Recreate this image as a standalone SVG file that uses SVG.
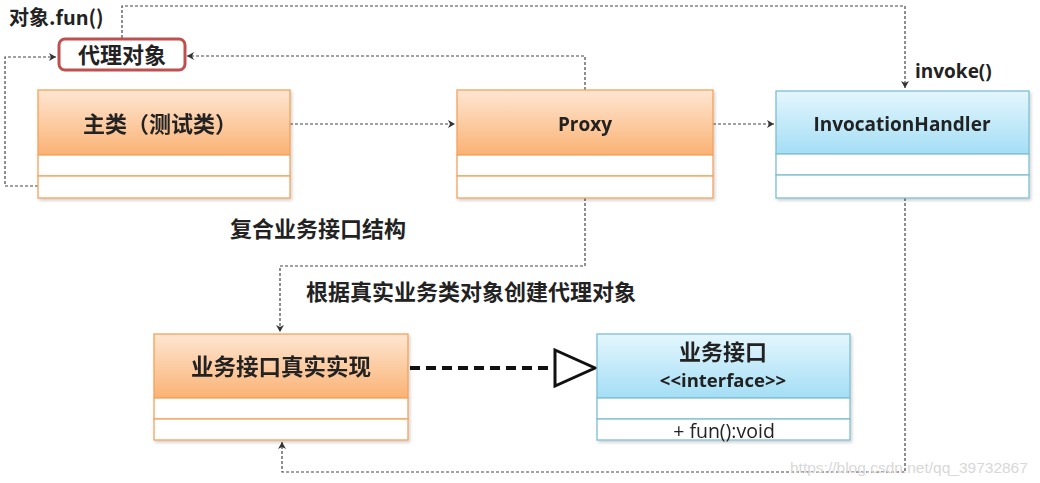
<svg xmlns="http://www.w3.org/2000/svg" width="1040" height="483" viewBox="0 0 1040 483">
<defs>
<linearGradient id="og" x1="0" y1="0" x2="0" y2="1">
<stop offset="0" stop-color="#fee6d2"/><stop offset="1" stop-color="#fab274"/>
</linearGradient>
<linearGradient id="bg" x1="0" y1="0" x2="0" y2="1">
<stop offset="0" stop-color="#e4f6fd"/><stop offset="1" stop-color="#a4def5"/>
</linearGradient>
<filter id="sh" x="-5%" y="-5%" width="112%" height="115%">
<feDropShadow dx="1.5" dy="2" stdDeviation="1.5" flood-color="#000" flood-opacity="0.18"/>
</filter>
<marker id="ah" markerWidth="10" markerHeight="10" refX="8" refY="5" orient="auto" markerUnits="userSpaceOnUse">
<path d="M1,1 L8,5 L1,9 L3,5 Z" fill="#333"/>
</marker>
<style>
.t{font-family:"Open Sans","Liberation Sans","Noto Sans CJK SC",sans-serif;font-weight:bold;fill:#222}
.cn{font-family:"Noto Sans CJK SC","Noto Sans",sans-serif;font-weight:bold;fill:#222}
.ob{stroke:#f5a25a;stroke-width:1.3}
.bb{stroke:#7dbfd3;stroke-width:1.3}
.row{fill:#fff}
.c{fill:none;stroke:#444;stroke-width:1.2;stroke-dasharray:3 2}
</style>
</defs>

<g id="connectors">
<path class="c" d="M122,38 V6 H905 V88" marker-end="url(#ah)"/>
<path class="c" d="M38,186 H5 V57 H56" marker-end="url(#ah)"/>
<path class="c" d="M585,90 V56 H187" marker-end="url(#ah)"/>
<path class="c" d="M290,124 H455" marker-end="url(#ah)"/>
<path class="c" d="M713,124 H774" marker-end="url(#ah)"/>
<path class="c" d="M585,198 V266 H280 V332" marker-end="url(#ah)"/>
<path class="c" d="M905,198 V472 H282 V442" marker-end="url(#ah)"/>
<path d="M410,368 H555" fill="none" stroke="#111" stroke-width="4" stroke-dasharray="10 6"/>
<path d="M555,350 L595,368 L555,386 Z" fill="#fff" stroke="#111" stroke-width="3" stroke-linejoin="miter"/>
</g>

<g id="label-fun"><text class="cn" x="9" y="25" font-size="20">对象.fun()</text></g>

<g id="proxy-object">
<rect x="59" y="39" width="126" height="31" rx="6" fill="#fff" stroke="#c0504d" stroke-width="3"/>
<text class="cn" x="122" y="63" font-size="22" text-anchor="middle">代理对象</text>
</g>

<g id="main-class" filter="url(#sh)">
<rect x="38" y="90" width="252" height="65" fill="url(#og)" class="ob"/>
<rect x="38" y="155" width="252" height="21" class="row ob"/>
<rect x="38" y="176" width="252" height="22" class="row ob"/>
<text class="cn" x="160" y="132" font-size="22" text-anchor="middle">主类（测试类）</text>
</g>

<g id="proxy" filter="url(#sh)">
<rect x="457" y="90" width="256" height="65" fill="url(#og)" class="ob"/>
<rect x="457" y="155" width="256" height="21" class="row ob"/>
<rect x="457" y="176" width="256" height="22" class="row ob"/>
<text class="t" x="585" y="131" font-size="19" text-anchor="middle">Proxy</text>
</g>

<g id="invocation-handler" filter="url(#sh)">
<rect x="776" y="91" width="253" height="63" fill="url(#bg)" class="bb"/>
<rect x="776" y="154" width="253" height="21" class="row bb"/>
<rect x="776" y="175" width="253" height="23" class="row bb"/>
<text class="t" x="902" y="131" font-size="19" text-anchor="middle">InvocationHandler</text>
</g>
<g id="label-invoke"><text class="t" x="915" y="78" font-size="19">invoke()</text></g>

<g id="label-composite"><text class="cn" x="230" y="237" font-size="22">复合业务接口结构</text></g>
<g id="label-create"><text class="cn" x="306" y="300" font-size="22">根据真实业务类对象创建代理对象</text></g>

<g id="real-impl" filter="url(#sh)">
<rect x="154" y="334" width="254" height="64" fill="url(#og)" class="ob"/>
<rect x="154" y="398" width="254" height="21" class="row ob"/>
<rect x="154" y="419" width="254" height="21" class="row ob"/>
<text class="cn" x="281" y="375" font-size="22.5" text-anchor="middle">业务接口真实实现</text>
</g>

<g id="business-interface" filter="url(#sh)">
<rect x="597" y="334" width="253" height="64" fill="url(#bg)" class="bb"/>
<rect x="597" y="398" width="253" height="21" class="row bb"/>
<rect x="597" y="419" width="253" height="21" class="row bb"/>
<text class="cn" x="723" y="360" font-size="22" text-anchor="middle">业务接口</text>
<text class="t" x="723" y="387" font-size="18.5" text-anchor="middle">&lt;&lt;interface&gt;&gt;</text>
<text x="724" y="438" font-size="19.5" text-anchor="middle" font-family="Open Sans,Liberation Sans,sans-serif" fill="#222">+ fun():void</text>
</g>

<g id="watermark"><text x="790" y="473" font-size="15.5" font-family="Liberation Sans,Arial,sans-serif" fill="#d8d8d8">https://blog.csdn.net/qq_39732867</text></g>
</svg>
